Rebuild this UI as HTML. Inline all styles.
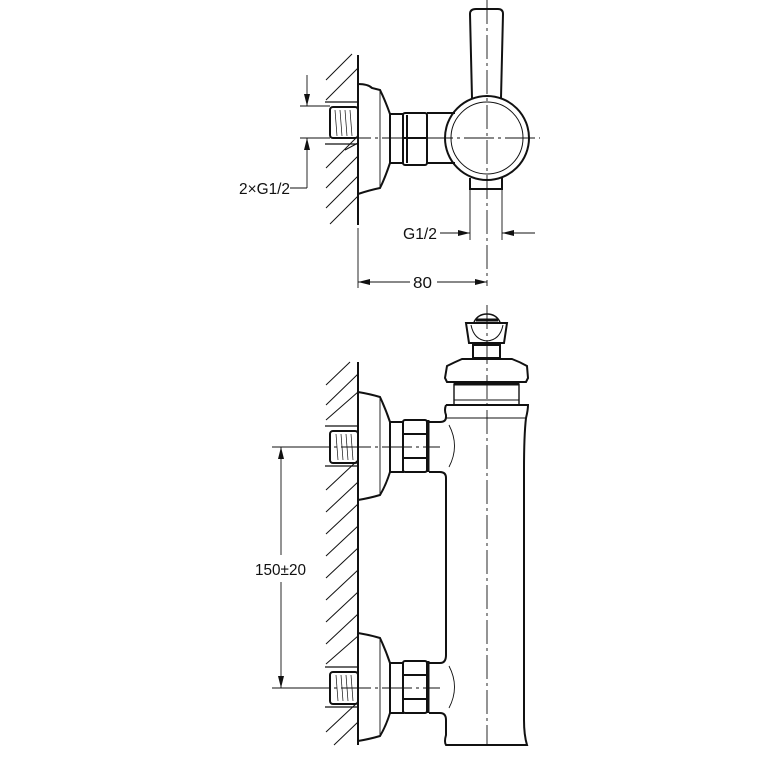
<!DOCTYPE html>
<html><head><style>html,body{margin:0;padding:0;background:#fff}svg{display:block}</style></head>
<body>
<svg width="775" height="775" viewBox="0 0 775 775" xmlns="http://www.w3.org/2000/svg" font-family="Liberation Sans, sans-serif">
<defs>
<marker id="a" viewBox="0 0 12 10" refX="12" refY="5" markerWidth="12" markerHeight="10" markerUnits="userSpaceOnUse" orient="auto-start-reverse"><path d="M0,2 L12,5 L0,8 z" fill="#111"/></marker>
</defs>
<g stroke="#111" fill="none" stroke-width="2">
<!-- TOP VIEW -->
<line x1="358" y1="55" x2="358" y2="225"/>
<g stroke-width="1">
<line x1="326" y1="80" x2="352" y2="54"/><line x1="326" y1="100" x2="358" y2="68"/>
<line x1="326" y1="168" x2="358" y2="136"/><line x1="326" y1="188" x2="358" y2="156"/>
<line x1="326" y1="208" x2="358" y2="176"/><line x1="330" y1="224" x2="358" y2="196"/>
<line x1="345" y1="150" x2="358" y2="143"/>
</g>
<line x1="325" y1="102" x2="358" y2="102" stroke-width="1.2"/>
<line x1="325" y1="144" x2="358" y2="144" stroke-width="1.2"/>
<rect x="330" y="107" width="28" height="31" rx="3"/>
<g stroke-width="0.7"><line x1="335" y1="110" x2="337" y2="136"/><line x1="340" y1="110" x2="342" y2="136"/><line x1="345" y1="110" x2="347" y2="136"/><line x1="350" y1="110" x2="352" y2="136"/></g>
<path d="M358,84 Q368,84 372,88 L380,90 Q385,100 390,114 L390,163 Q385,178 380,188 Q370,190 358,194"/>
<line x1="380" y1="90" x2="380" y2="188" stroke-width="0.9"/>
<rect x="390" y="114" width="13" height="49"/>
<rect x="403" y="113" width="24" height="52" rx="2"/>
<line x1="403" y1="138" x2="427" y2="138"/>
<line x1="407" y1="115" x2="407" y2="163"/>
<path d="M427,113 L455,113 M427,163 L455,163"/>
<circle cx="487" cy="138" r="42"/>
<circle cx="487" cy="138" r="36" stroke-width="1"/>
<path d="M472,98 L470,14 Q470,9 476,9 L498,9 Q503,9 503,14 L501,98"/>
<path d="M470,178 L470,189 L502,189 L502,178"/>
<g stroke-width="0.9">
<line x1="487" y1="0" x2="487" y2="286" stroke-dasharray="24,4,3,4"/>
<line x1="300" y1="138" x2="540" y2="138" stroke-dasharray="30,4,3,4"/>
<line x1="300" y1="106" x2="330" y2="106"/>
<line x1="307" y1="75" x2="307" y2="106" marker-end="url(#a)"/>
<line x1="307" y1="188" x2="307" y2="138" marker-end="url(#a)"/>
<line x1="290" y1="188" x2="307" y2="188"/>
<line x1="470" y1="190" x2="470" y2="240"/><line x1="502" y1="190" x2="502" y2="240"/>
<line x1="440" y1="233" x2="470" y2="233" marker-end="url(#a)"/>
<line x1="535" y1="233" x2="502" y2="233" marker-end="url(#a)"/>
<line x1="358" y1="228" x2="358" y2="288"/>
<line x1="410" y1="282" x2="358" y2="282" marker-end="url(#a)"/>
<line x1="437" y1="282" x2="487" y2="282" marker-end="url(#a)"/>
</g>
<!-- BOTTOM VIEW -->
<line x1="358" y1="362" x2="358" y2="745"/>
<g stroke-width="1">
<line x1="326" y1="385" x2="350" y2="362"/><line x1="326" y1="405" x2="358" y2="374"/>
<line x1="326" y1="420" x2="358" y2="392"/>
<line x1="326" y1="490" x2="358" y2="460"/><line x1="326" y1="512" x2="358" y2="482"/>
<line x1="326" y1="534" x2="358" y2="504"/><line x1="326" y1="556" x2="358" y2="526"/>
<line x1="326" y1="578" x2="358" y2="548"/><line x1="326" y1="600" x2="358" y2="570"/>
<line x1="326" y1="622" x2="358" y2="592"/><line x1="326" y1="644" x2="358" y2="614"/>
<line x1="326" y1="664" x2="358" y2="636"/>
<line x1="326" y1="732" x2="358" y2="702"/><line x1="334" y1="745" x2="358" y2="722"/>
</g>
<g id="inlet">
<line x1="325" y1="426" x2="358" y2="426" stroke-width="1.2"/>
<line x1="325" y1="466" x2="358" y2="466" stroke-width="1.2"/>
<rect x="330" y="431" width="28" height="32" rx="3"/>
<g stroke-width="0.7"><line x1="336" y1="434" x2="338" y2="460"/><line x1="341" y1="434" x2="343" y2="460"/><line x1="346" y1="434" x2="348" y2="460"/><line x1="351" y1="434" x2="353" y2="460"/></g>
<path d="M358,392 Q370,394 380,397 Q386,410 390,422 L390,472 Q386,485 380,495 Q370,498 358,500"/>
<line x1="380" y1="397" x2="380" y2="495" stroke-width="0.9"/>
<rect x="390" y="422" width="13" height="50"/>
<rect x="403" y="420" width="24" height="52" rx="2"/>
<line x1="403" y1="434" x2="427" y2="434"/><line x1="403" y1="458" x2="427" y2="458"/>
<line x1="428" y1="420" x2="428" y2="472" stroke-width="3"/>
<path d="M449,425 Q460,446 449,467" stroke-width="0.9"/>
</g>
<use href="#inlet" transform="translate(0,241)"/>
<!-- body -->
<path d="M446,405 Q444,410 446,415 L446,417 Q446,422 440,422 L429,422"/>
<path d="M429,472 L440,472 Q446,472 446,478 L446,655 Q446,663 440,663 L429,663"/>
<path d="M429,713 L440,713 Q446,713 446,720 L446,735 Q444,742 446,745 L527,745 Q524,735 524,720 L524,470 Q524,435 526,418 Q528,410 528,405 L446,405"/>
<line x1="446" y1="418" x2="527" y2="418" stroke-width="0.9"/>
<!-- cap -->
<rect x="454" y="384" width="65" height="21" stroke-width="1.4"/>
<line x1="454" y1="384" x2="519" y2="384" stroke-width="3"/>
<line x1="454" y1="400" x2="519" y2="400" stroke-width="0.9"/>
<path d="M447,382 L445,378 L447,366 Q455,362 462,359 L512,359 Q520,362 527,366 L528,378 L526,382 Z"/>
<rect x="473" y="345" width="27" height="13"/>
<path d="M466,323 L507,323 L504,343 L469,343 Z"/>
<path d="M471,325 Q474,340 487,341 Q500,340 503,325" stroke-width="1"/>
<path d="M474,322 Q478,314 487,314 Q496,314 500,322" stroke-width="1.4"/>
<line x1="476" y1="320" x2="498" y2="320" stroke-width="3"/>
<g stroke-width="0.9">
<line x1="487" y1="305" x2="487" y2="745" stroke-dasharray="24,4,3,4"/>
<line x1="300" y1="447" x2="440" y2="447" stroke-dasharray="30,4,3,4"/>
<line x1="300" y1="688" x2="440" y2="688" stroke-dasharray="30,4,3,4"/>
<line x1="272" y1="447" x2="330" y2="447"/>
<line x1="272" y1="688" x2="330" y2="688"/>
<line x1="281" y1="555" x2="281" y2="447" marker-end="url(#a)"/>
<line x1="281" y1="582" x2="281" y2="688" marker-end="url(#a)"/>
</g>
</g>
<g fill="#111" font-size="16">
<text x="239" y="194" textLength="51" lengthAdjust="spacingAndGlyphs">2×G1/2</text>
<text x="403" y="239" textLength="34" lengthAdjust="spacingAndGlyphs">G1/2</text>
<text x="413" y="288" textLength="19" lengthAdjust="spacingAndGlyphs">80</text>
<text x="255" y="575" textLength="51" lengthAdjust="spacingAndGlyphs">150±20</text>
</g>
</svg>
</body></html>
